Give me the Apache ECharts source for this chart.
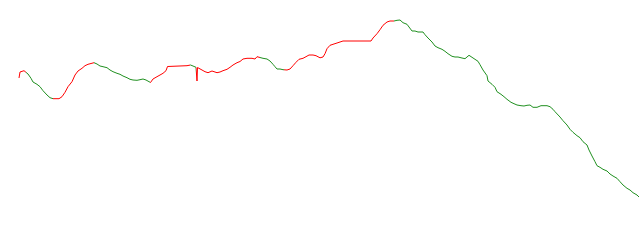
<!DOCTYPE html>
<html>
<head>
<meta charset="utf-8">
<script src="https://cdn.jsdelivr.net/npm/echarts@6/dist/echarts.min.js"></script>
<style>html,body{margin:0;padding:0;background:#fff}#c{width:640px;height:240px}</style>
</head>
<body>
<div id="c"></div>
<script>
// day index
var days = [
 19,20,22,24,26,28,31,33,37,40,
 43,47,50,53,59,62,65,68,72,75,
 78,82,85,88,90,94,97,100,103,107,
 110,113,117,120,123,127,130,133,137,140,
 143,146,148,150.5,153,157,160,163,166,167.5,
 169,187,190.5,193,196,197,197.5,198.5,202,205,
 208,212,214,217,220,223,227,230,233,237,
 240,243,247,252,255,257,260,263,267,270,
 273,275,277,280,283,285,287,290,293,296,
 299,303,306,309,313,316,318,320,323,325,
 327,330,333,337,340,343,371,373,377,380,
 383,387,390,394,397,400,403,407,409,412,
 415,418,423,425,428,432,435,438,442,445,
 448,452,455,458,462,465,467,469,472,475,
 478,480,483,487,488,492,495,497,501,504,
 507,511,514,517,521,524,527,530,533,537,
 541,547,550,553,555,557,560,563,567,570,
 573,577,580,583,587,589,592,595,597,600,
 603,607,610,613,617,620,623,627,630,633,
 637,639
];
// price values
var prices = [
 162,168,169,169.3,169.5,166,161.7,158,155.7,153.3,
 149.3,145,142.3,141.3,141.3,143.3,147.7,153.3,158.3,165,
 169,171.7,174.3,175.7,176.7,177.3,176,174,173.3,172.3,
 170,168.3,166.7,165.7,164,162.3,160.7,160,159.7,160.3,
 161,160,159,157.5,161,163.3,165,166.7,169.3,173.5,
 174.3,174.3,175,174,172.7,159,172.5,171.7,170,168.3,
 167.3,169,168.3,167.3,168,169.3,170.7,172.7,175,177.3,
 178.5,181,181.7,181.7,181,183.3,182.5,181.7,181,179,
 175.7,173.3,171,171,170.3,169.8,170,171,174.3,177.7,
 180.7,181.7,183.3,185,185,184.3,183,182.2,183,186.3,
 191.3,194.7,195.7,197,198,199,199,202,206.3,210.3,
 214.7,218,219,219,219.7,220,217.3,215.7,213,209,
 209,208,208,205.3,202,198,194,192.3,190.7,188.7,
 186.3,183.7,183,183,182,181.3,183,184.7,182.7,180.7,
 178.7,175.3,170,164.3,159,155.7,152.7,148.3,145.7,143.3,
 140.7,137.7,136.3,135,134.3,134,134.7,135,132.7,132.7,
 134.3,134.3,133.3,130.7,128.3,126.7,123,119.3,115,110.7,
 107.7,104.3,102.3,98.3,95,90,84,78.3,74.3,72.7,
 70.7,69,66,64,61.7,58.3,55,51.7,50,47.3,
 45,43
];
// day spans drawn in the "up" colour
var upSpans = [[0,26],[53,94],[150.5,190.5],[196,260],[284,394]];

var data = days.map(function(d,i){return [d, prices[i]];});
var pieces = upSpans.map(function(s){return {gte:s[0], lt:s[1], color:'#ff0000'};});

var chart = echarts.init(document.getElementById('c'), null, {renderer:'canvas'});
chart.setOption({
  animation:false,
  grid:{left:0,right:0,top:0,bottom:0},
  xAxis:{type:'value',min:0,max:640,show:false},
  yAxis:{type:'value',min:0,max:240,show:false},
  visualMap:{show:false,type:'piecewise',dimension:0,pieces:pieces,outOfRange:{color:'#1f8f1f'}},
  series:[{type:'line',data:data,showSymbol:false,lineStyle:{width:1}}]
});
</script>
</body>
</html>
